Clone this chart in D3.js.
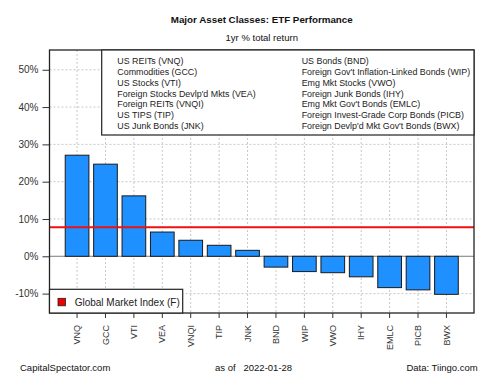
<!DOCTYPE html>
<html><head><meta charset="utf-8">
<script src="https://cdn.jsdelivr.net/npm/d3@7"></script>
<style>body{margin:0;background:#fff}svg{display:block}text{font-family:"Liberation Sans",Arial,sans-serif}</style>
</head><body>
<svg id="c" width="500" height="375"></svg>
<script>
const tickers = ["VNQ","GCC","VTI","VEA","VNQI","TIP","JNK","BND","WIP","VWO","IHY","EMLC","PICB","BWX"];
const returns = [27.1,24.7,16.2,6.5,4.3,2.95,1.6,-2.9,-4.1,-4.4,-5.5,-8.4,-9.0,-10.2];
const benchmark = 7.8;
const yTicks = [-10,0,10,20,30,40,50];
const legendLeft = ["US REITs (VNQ)","Commodities (GCC)","US Stocks (VTI)","Foreign Stocks Devlp'd Mkts (VEA)","Foreign REITs (VNQI)","US TIPS (TIP)","US Junk Bonds (JNK)"];
const legendRight = ["US Bonds (BND)","Foreign Gov't Inflation-Linked Bonds (WIP)","Emg Mkt Stocks (VWO)","Foreign Junk Bonds (IHY)","Emg Mkt Gov't Bonds (EMLC)","Foreign Invest-Grade Corp Bonds (PICB)","Foreign Devlp'd Mkt Gov't Bonds (BWX)"];

const svg = d3.select("#c");
const L = 49.5, R = 474, T = 50, B = 313;
const xu = d3.scaleLinear().domain([-0.464, 17.464]).range([L, R]);
const x = d3.scaleBand().domain(tickers).range([xu(0.1), xu(16.9)]).paddingInner(1/6).paddingOuter(1/12);
const y = d3.scaleLinear().domain([-15.2, 55.3]).range([B, T]);

// grid
const g = svg.append("g");
g.selectAll(".vg").data(tickers).enter().append("line")
  .attr("x1", d => x(d) + x.bandwidth()/2).attr("x2", d => x(d) + x.bandwidth()/2)
  .attr("y1", T).attr("y2", B).attr("stroke", "#c8c8c8").attr("stroke-dasharray", "2,2");
g.selectAll(".hg").data(yTicks).enter().append("line")
  .attr("x1", L).attr("x2", R).attr("y1", d => y(d)).attr("y2", d => y(d))
  .attr("stroke", "#c8c8c8").attr("stroke-dasharray", "2,2");

// zero line
svg.append("line").attr("x1", L).attr("x2", R).attr("y1", y(0)).attr("y2", y(0)).attr("stroke", "#999").attr("stroke-width", 1.2);

// bars
svg.selectAll(".bar").data(tickers).enter().append("rect")
  .attr("x", d => x(d)).attr("width", x.bandwidth())
  .attr("y", (d,i) => y(Math.max(0, returns[i])))
  .attr("height", (d,i) => Math.abs(y(returns[i]) - y(0)))
  .attr("fill", "#1E90FF").attr("stroke", "#1a1a1a").attr("stroke-width", 1);

// benchmark line
svg.append("line").attr("x1", L).attr("x2", R).attr("y1", y(benchmark)).attr("y2", y(benchmark))
  .attr("stroke", "#ee1111").attr("stroke-width", 2);

// axes
const ya = d3.axisLeft(y).tickValues(yTicks).tickFormat(d => d + "%").tickSize(7).tickPadding(4);
const yg = svg.append("g").attr("transform", `translate(${L},0)`).call(ya);
yg.select(".domain").remove();
yg.selectAll("line").attr("stroke", "#333");
yg.selectAll("text").attr("font-size", 10).attr("fill", "#333").attr("font-family", "Liberation Sans, Arial, sans-serif");

const xa = d3.axisBottom(x).tickSize(5).tickPadding(5);
const xg = svg.append("g").attr("transform", `translate(0,${B})`).call(xa);
xg.select(".domain").remove();
xg.selectAll("line").attr("stroke", "#333");
xg.selectAll("text").attr("font-size", 9).attr("fill", "#333").attr("font-family", "Liberation Sans, Arial, sans-serif")
  .attr("transform", "rotate(-90)").attr("text-anchor", "end").attr("dy", "0.35em").attr("x", -12).attr("y", 0);

// plot border
svg.append("rect").attr("x", L).attr("y", T).attr("width", R - L).attr("height", B - T)
  .attr("fill", "none").attr("stroke", "#222").attr("stroke-width", 1.3);

// top legend
const lgx = 101.7, lgb = 135;
svg.append("rect").attr("x", lgx).attr("y", T).attr("width", R - lgx).attr("height", lgb - T)
  .attr("fill", "#fff").attr("stroke", "#222").attr("stroke-width", 1.2);
const rowY = i => 64 + i * 10.85;
svg.selectAll(".ll").data(legendLeft).enter().append("text")
  .attr("x", 117.3).attr("y", (d,i) => rowY(i)).attr("font-size", 8.9).attr("fill", "#222").text(d => d);
svg.selectAll(".lr").data(legendRight).enter().append("text")
  .attr("x", 301.7).attr("y", (d,i) => rowY(i)).attr("font-size", 8.9).attr("fill", "#222").text(d => d);

// bottom legend
svg.append("rect").attr("x", L).attr("y", 289.3).attr("width", 182.7 - L).attr("height", B - 289.3)
  .attr("fill", "#fff").attr("stroke", "#222").attr("stroke-width", 1.2);
svg.append("rect").attr("x", 58).attr("y", 298.3).attr("width", 7.5).attr("height", 7.5)
  .attr("fill", "#ee0000").attr("stroke", "#222").attr("stroke-width", 0.8);
svg.append("text").attr("x", 74.7).attr("y", 305.8).attr("font-size", 10).attr("fill", "#222").text("Global Market Index (F)");

// titles
const cx = (L + R) / 2;
svg.append("text").attr("x", cx).attr("y", 23).attr("text-anchor", "middle").attr("font-size", 9.8).attr("font-weight", "bold").attr("fill", "#111").text("Major Asset Classes: ETF Performance");
svg.append("text").attr("x", cx).attr("y", 41).attr("text-anchor", "middle").attr("font-size", 9.5).attr("fill", "#111").text("1yr % total return");

// footer
svg.append("text").attr("x", 20).attr("y", 371).attr("font-size", 9.5).attr("fill", "#111").text("CapitalSpectator.com");
svg.append("text").attr("x", 215).attr("y", 371).attr("font-size", 9.5).attr("fill", "#111").attr("xml:space", "preserve").text("as of   2022-01-28");
svg.append("text").attr("x", 477.7).attr("y", 371).attr("text-anchor", "end").attr("font-size", 9.5).attr("fill", "#111").text("Data: Tiingo.com");
</script>
</body></html>
